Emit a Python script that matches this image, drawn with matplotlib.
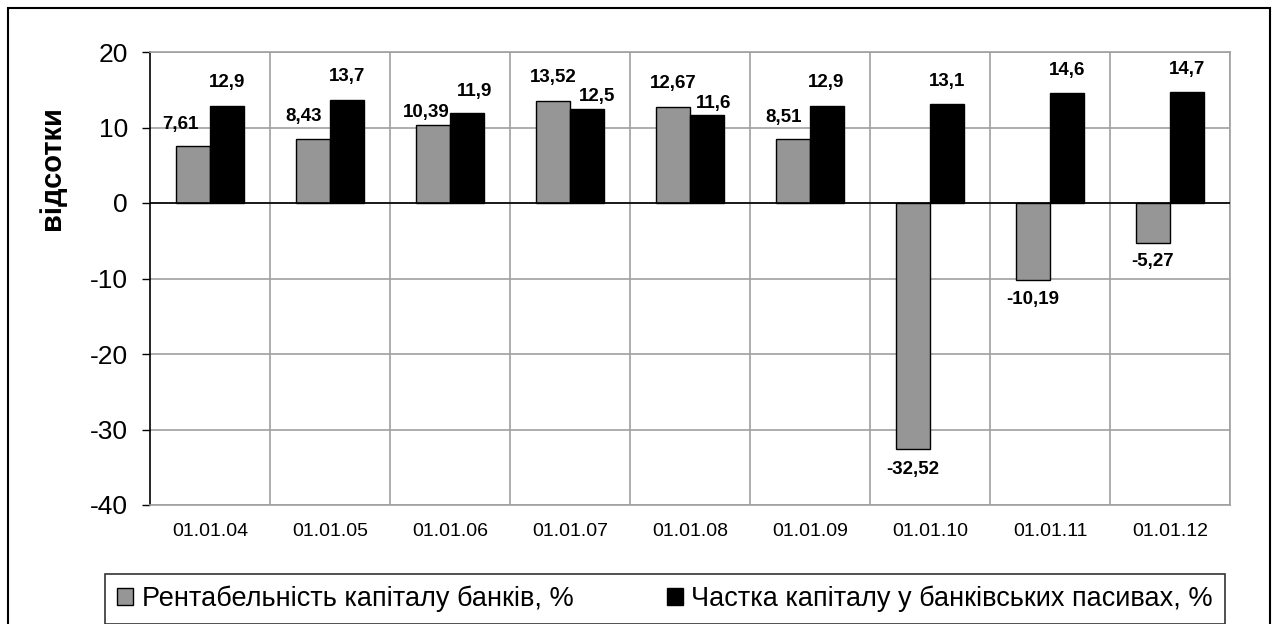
import matplotlib
matplotlib.use("Agg")
import matplotlib.pyplot as plt
import numpy as np
from matplotlib.patches import Rectangle

categories = ["01.01.04", "01.01.05", "01.01.06", "01.01.07", "01.01.08",
              "01.01.09", "01.01.10", "01.01.11", "01.01.12"]
roe = [7.61, 8.43, 10.39, 13.52, 12.67, 8.51, -32.52, -10.19, -5.27]
roe_labels = ["7,61", "8,43", "10,39", "13,52", "12,67", "8,51", "-32,52", "-10,19", "-5,27"]
share = [12.9, 13.7, 11.9, 12.5, 11.6, 12.9, 13.1, 14.6, 14.7]
share_labels = ["12,9", "13,7", "11,9", "12,5", "11,6", "12,9", "13,1", "14,6", "14,7"]
series_names = ["Рентабельність капіталу банків, %", "Частка капіталу у банківських пасивах, %"]
yticks = [20, 10, 0, -10, -20, -30, -40]

# label offsets in pixels (style only)
roe_offsets = [(-12, 21), (-9, 23), (-7, 12), (0, 23), (0, 24), (-9, 21), (0, -21), (0, -20), (0, -19)]
share_offsets = [(0, 23), (0, 23), (7, 22), (10, 12), (6, 12), (-1, 23), (0, 23), (0, 22), (0, 23)]

plt.rcParams['font.family'] = ['Liberation Sans', 'DejaVu Sans']

fig = plt.figure(figsize=(12.77, 6.24), dpi=100)
ax = fig.add_axes([150/1277, 1-505/624, 1080/1277, 453/624])

x = np.arange(len(categories))
w = 0.285
b1 = ax.bar(x - w/2, roe, w, color="#969696", edgecolor="black", linewidth=1.0, zorder=3, label=series_names[0])
b2 = ax.bar(x + w/2, share, w, color="black", edgecolor="black", linewidth=1.0, zorder=3, label=series_names[1])

for xi, v, lab, (dx, dy) in zip(x, roe, roe_labels, roe_offsets):
    ax.annotate(lab, (xi - w/2, v), xytext=(dx, dy), textcoords="offset pixels",
                ha="center", va="center", fontsize=13.5, fontweight="bold", zorder=5)
for xi, v, lab, (dx, dy) in zip(x, share, share_labels, share_offsets):
    ax.annotate(lab, (xi + w/2, v), xytext=(dx, dy), textcoords="offset pixels",
                ha="center", va="center", fontsize=13.5, fontweight="bold", zorder=5)

ax.set_xlim(-0.5, len(categories) - 0.5)
ax.set_ylim(-40, 20)
ax.set_yticks(yticks)
ax.set_yticklabels([str(t) for t in yticks], fontsize=19)
ax.tick_params(axis="y", direction="out", length=6, width=1, pad=10)

# vertical grid at category boundaries
for b in np.arange(-0.5, len(categories), 1.0)[1:]:
    ax.axvline(b, color="#a0a0a0", linewidth=1.2, zorder=1)
ax.yaxis.grid(True, color="#a0a0a0", linewidth=1.2, zorder=1)
ax.set_axisbelow(True)

ax.set_xticks([])
for xi, c in zip(x, categories):
    ax.annotate(c, (xi, -40), xytext=(0, -27), textcoords="offset pixels",
                ha="center", va="center", fontsize=14, annotation_clip=False)

ax.axhline(0, color="black", linewidth=1.2, zorder=4)

for s in ["top", "right", "bottom"]:
    ax.spines[s].set_color("#a0a0a0")
    ax.spines[s].set_linewidth(1.2)
ax.spines["left"].set_color("black")
ax.spines["left"].set_linewidth(1.2)

fig.text(52/1277, 1-168/624, "відсотки", rotation=90, ha="center", va="center",
         fontsize=21, fontweight="bold")

leg = fig.legend(handles=[b1, b2], labels=series_names, loc="center",
                 bbox_to_anchor=(105/1277, 1-622/624, 1120/1277, 46/624), mode="expand",
                 ncol=2, fontsize=19.5,
                 frameon=True, fancybox=False, edgecolor="black", handlelength=0.6,
                 handleheight=0.6, handletextpad=0.3, columnspacing=1.4,
                 borderpad=0.45, borderaxespad=0)
leg.get_frame().set_linewidth(1.2)

fig.patches.append(Rectangle((8/1277, -10/624), 1262/1277, 626/624, transform=fig.transFigure,
                             fill=False, edgecolor="black", linewidth=1.5))

fig.savefig("out.png", dpi=100)
